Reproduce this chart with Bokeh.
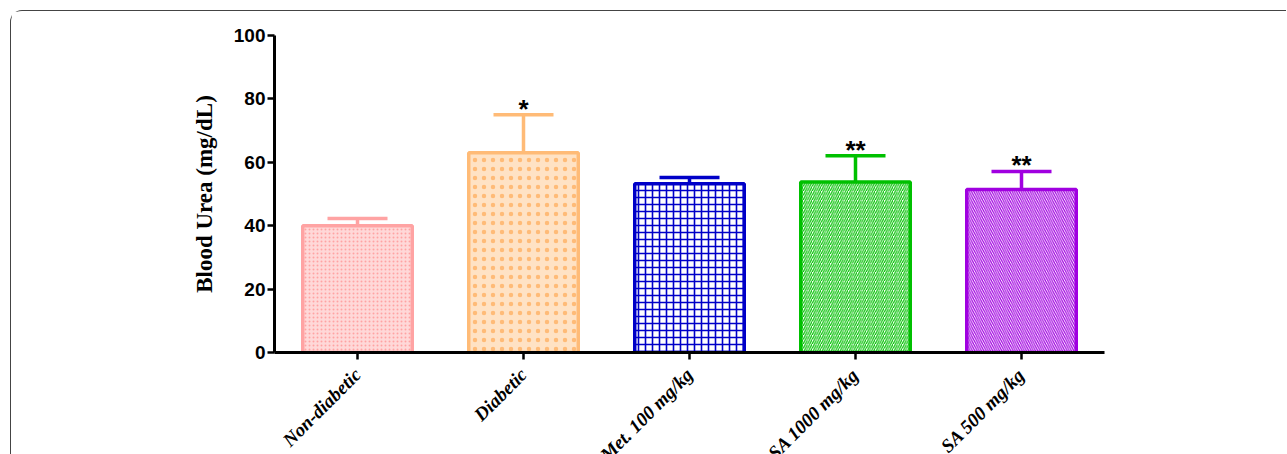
from bokeh.plotting import figure
from bokeh.models import ColumnDataSource, Whisker, TeeHead, Range1d, FactorRange
from bokeh.core.properties import value
from bokeh.embed import file_html
from bokeh.resources import INLINE
import math

groups = ["Non-diabetic", "Diabetic", "Met. 100 mg/kg", "SA 1000 mg/kg", "SA 500 mg/kg"]
means = [40.0, 63.0, 53.2, 53.8, 51.4]
errors = [2.3, 12.0, 2.0, 8.3, 5.7]
stars = ["", "*", "", "**", "**"]
y_ticks = [0, 20, 40, 60, 80, 100]

colors = ["#FFA3A3", "#FFBB77", "#0000C8", "#00C000", "#A000E0"]
fills = ["#FFD8D8", "#FFE2C4", "white", "white", "white"]
hatch = [("dot", 4, 1.5), ("dot", 9, 6), ("cross", 7, 1.6), ("right_diagonal_line", 4.5, 1.2),
         ("left_diagonal_line", 4.5, 1.2)]

upper = [m + e for m, e in zip(means, errors)]
src = ColumnDataSource(dict(x=groups, top=means, upper=upper, stars=stars))

# the reference is cropped through its category labels; the frame keeps its size
p = figure(frame_width=830, frame_height=317, x_range=FactorRange(*groups, range_padding=0),
           y_range=Range1d(0, 100), output_backend="svg", toolbar_location=None,
           min_border_left=263, min_border_right=182, min_border_top=24, min_border_bottom=90)
p.styles = {"margin-top": "10px", "margin-left": "10px",
            "border-top": "1.5px solid #444", "border-left": "1.5px solid #444",
            "border-top-left-radius": "12px"}

for i, g in enumerate(groups):
    pat, sc, wt = hatch[i]
    p.vbar(x=[g], top=[means[i]], width=0.66, fill_color=fills[i],
           line_color=colors[i], line_width=3.5,
           hatch_pattern=pat, hatch_scale=sc, hatch_weight=wt, hatch_color=colors[i])

for i, g in enumerate(groups):
    s = ColumnDataSource(dict(x=[g], upper=[upper[i]], lower=[means[i]]))
    w = Whisker(source=s, base="x", upper="upper", lower="lower",
                line_color=colors[i], line_width=3.5,
                upper_head=TeeHead(size=60, line_color=colors[i], line_width=3.5),
                lower_head=None, level="underlay")
    p.add_layout(w)

p.text(x="x", y="upper", text="stars", source=src, text_align="center", text_baseline="bottom",
       y_offset=9, text_font=value("Liberation Sans"), text_font_style="bold",
       text_font_size="26px", text_color="black")

p.xgrid.visible = False
p.ygrid.visible = False
p.outline_line_color = None

p.yaxis.ticker = y_ticks
p.yaxis.axis_label = "Blood Urea (mg/dL)"
p.yaxis.axis_label_text_font = "Liberation Serif"
p.yaxis.axis_label_text_font_style = "bold"
p.yaxis.axis_label_text_font_size = "23px"
p.yaxis.axis_label_text_color = "black"
p.yaxis.axis_label_standoff = 14
p.yaxis.major_label_text_font = "Liberation Sans"
p.yaxis.major_label_text_font_style = "bold"
p.yaxis.major_label_text_font_size = "19px"
p.yaxis.major_label_standoff = 2

for ax in (p.xaxis, p.yaxis):
    ax.axis_line_width = 3
    ax.axis_line_color = "black"
    ax.major_tick_line_width = 2.5
    ax.major_tick_out = 7
    ax.major_tick_in = 0
    ax.minor_tick_line_color = None
    ax.major_label_text_color = "black"

p.xaxis.major_label_orientation = math.pi / 4
p.xaxis.major_label_text_font = "Liberation Serif"
p.xaxis.major_label_text_font_style = "bold italic"
p.xaxis.major_label_text_font_size = "19px"
p.xaxis.major_label_standoff = 12

open("out.html", "w").write(file_html(p, INLINE))
